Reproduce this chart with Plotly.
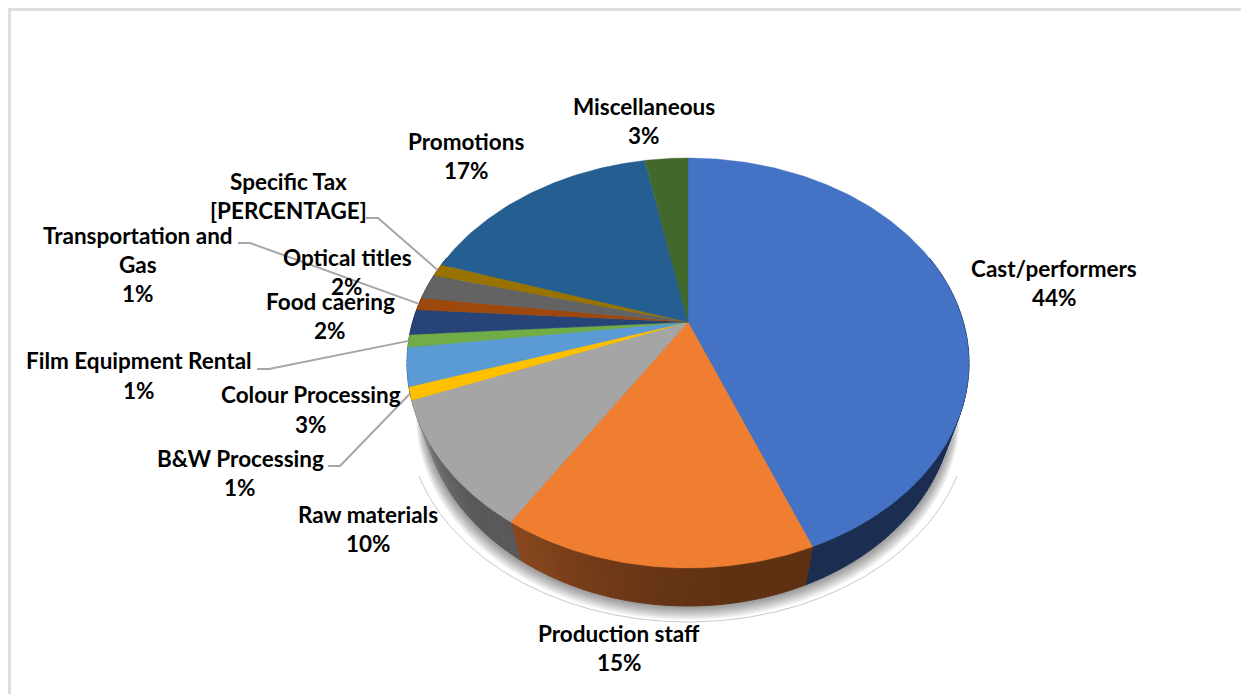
import numpy as np
import plotly.graph_objects as go

# Cost breakdown, clockwise from twelve o'clock
categories = ["Cast/performers", "Production staff", "Raw materials", "B&W Processing",
              "Colour Processing", "Film Equipment Rental", "Food caering",
              "Transportation and", "Optical titles", "Specific Tax", "Promotions", "Miscellaneous"]
shares = [44, 15, 10, 1, 3, 1, 2, 1, 2, 1, 17, 3]
top_colors = ["#4472c4", "#ef7e31", "#a5a5a5", "#ffc000", "#5b9bd5", "#70ad47",
              "#264478", "#9e480e", "#636363", "#997300", "#255e91", "#43682b"]
wall_start = ["#1b2e52", "#5f3113", "#595959", "#806000", "#2e6ea6", "#43682b",
              "#16294a", "#5e2b08", "#3b3b3b", "#5c4500", "#16385a", "#28401a"]
wall_end = ["#1b2e52", "#8a481f", "#8a8a8a", "#806000", "#2e6ea6", "#43682b",
            "#16294a", "#5e2b08", "#3b3b3b", "#5c4500", "#16385a", "#28401a"]

# Canvas layout, in pixels
W, H = 1241, 694
CX, APEX_Y = 688, 322          # projected pie centre
TILT = 0.2                     # strength of the perspective foreshortening
BACK_SLOPE = -132.4
RADIUS_X = 275.3
DEPTH = 38                     # wall height
BASE_SCALE = 0.945             # the base rim is drawn a little narrower
FLOOR_DROP = 54                # offset of the faint floor arc

# name, x, y of name line, y of percentage line
label_layout = {
    "Cast/performers": (1054, 269, 298),
    "Production staff": (619, 634, 663),
    "Raw materials": (368, 515, 544),
    "B&W Processing": (240, 459, 488),
    "Colour Processing": (311, 395, 425),
    "Film Equipment Rental": (139, 361, 391),
    "Food caering": (330, 302, 331),
    "Transportation and": (138, 236, 294),
    "Optical titles": (347, 258, 287),
    "Specific Tax": (288, 182, 211),
    "Promotions": (466, 142, 171),
    "Miscellaneous": (644, 107, 136),
}
# leader lines: label-side end and elbow
leader_layout = {
    "Specific Tax": [(366, 218), (378, 218)],
    "Transportation and": [(238, 243), (250, 243)],
    "Film Equipment Rental": [(257, 369), (269, 369)],
    "B&W Processing": [(328, 466), (340, 466)],
}


def rim(t, scale=1.0, drop=0.0):
    """Project the point at clockwise angle t (radians from the top) on the pie rim."""
    t = np.asarray(t, dtype=float)
    u, v = np.sin(t), np.cos(t)
    den = 1 + TILT * v
    x = CX + scale * RADIUS_X * u / den
    y = (APEX_Y + BACK_SLOPE * v) / den + drop
    return x, y


def mix(a, b, f):
    ca = [int(a[i:i + 2], 16) for i in (1, 3, 5)]
    cb = [int(b[i:i + 2], 16) for i in (1, 3, 5)]
    return "rgb(%d,%d,%d)" % tuple(round(p + (q - p) * f) for p, q in zip(ca, cb))


def poly(x, y, color, line=1.0):
    return go.Scatter(x=list(x), y=list(y), mode="lines", fill="toself", fillcolor=color,
                      line=dict(color=color, width=line), hoverinfo="skip", showlegend=False)


fig = go.Figure()
full = np.linspace(0, 2 * np.pi, 361)

# Soft drop shadow under the pie
for k in range(1, 16):
    sx, sy = rim(full, BASE_SCALE + 0.0016 * k, DEPTH + k * 0.95)
    fig.add_trace(poly(sx, sy, "rgba(0,0,0,0.03)", line=0))

# Thin arc of the floor ellipse below the shadow
arc = np.linspace(np.radians(117.5), np.radians(242.5), 200)
ax, ay = rim(arc, 1.0, FLOOR_DROP)
fig.add_trace(go.Scatter(x=ax, y=ay, mode="lines", line=dict(color="#c9c9c9", width=1),
                         hoverinfo="skip", showlegend=False))

edges = 2 * np.pi * np.cumsum([0] + shares) / sum(shares)

# Side wall, drawn as narrow strips so the shading can vary along a slice
for i in range(len(shares)):
    n = max(2, int(shares[i] * 3))
    ts = np.linspace(edges[i], edges[i + 1], n + 1)
    for j in range(n):
        a, b = ts[j], ts[j + 1]
        if np.cos((a + b) / 2) > 0.35:
            continue
        seg = np.linspace(a, b, 5)
        tx, ty = rim(seg)
        bx, by = rim(seg[::-1], BASE_SCALE, DEPTH)
        f = (max(0.0, (j + 0.5) / n - 0.25) / 0.75) ** 1.5
        fig.add_trace(poly(np.r_[tx, bx, tx[0]], np.r_[ty, by, ty[0]],
                           mix(wall_start[i], wall_end[i], f)))

# Top face
for i in range(len(shares)):
    seg = np.linspace(edges[i], edges[i + 1], max(6, shares[i] * 4))
    tx, ty = rim(seg)
    fig.add_trace(poly(np.r_[CX, tx, CX], np.r_[APEX_Y, ty, APEX_Y], top_colors[i], line=0.4))

# Leader lines run from the elbow to the slice's mid-angle on the rim
for name, pts in leader_layout.items():
    i = categories.index(name)
    ex, ey = rim((edges[i] + edges[i + 1]) / 2)
    fig.add_trace(go.Scatter(x=[pts[0][0], pts[1][0], float(ex)], y=[pts[0][1], pts[1][1], float(ey)],
                             mode="lines", line=dict(color="#a6a6a6", width=2),
                             hoverinfo="skip", showlegend=False))

FONT = dict(family="Lato, Carlito, sans-serif", size=22.5, color="#000000")


def text(x, y, s):
    return dict(x=x, y=y - 1, xref="x", yref="y", text="<b>%s</b>" % s, showarrow=False,
                xanchor="center", yanchor="middle", font=FONT)


notes = []
for name, share in zip(categories, shares):
    x, y1, y2 = label_layout[name]
    notes.append(text(x, y1, name))
    if name == "Transportation and":
        notes.append(text(x, 265, "Gas"))
    notes.append(text(x, y2, "[PERCENTAGE]" if name == "Specific Tax" else "%d%%" % share))

frame = [
    dict(type="rect", xref="x", yref="y", x0=8, x1=11, y0=8, y1=H, fillcolor="#dedede", line_width=0, layer="below"),
    dict(type="rect", xref="x", yref="y", x0=8, x1=W, y0=8, y1=11, fillcolor="#dedede", line_width=0, layer="below"),
]

fig.update_layout(
    width=W, height=H, margin=dict(l=0, r=0, t=0, b=0),
    paper_bgcolor="#ffffff", plot_bgcolor="#ffffff", showlegend=False,
    xaxis=dict(range=[0, W], visible=False, fixedrange=True),
    yaxis=dict(range=[H, 0], visible=False, fixedrange=True),
    annotations=notes, shapes=frame,
)
fig.write_html("out.html", config={"displayModeBar": False})
